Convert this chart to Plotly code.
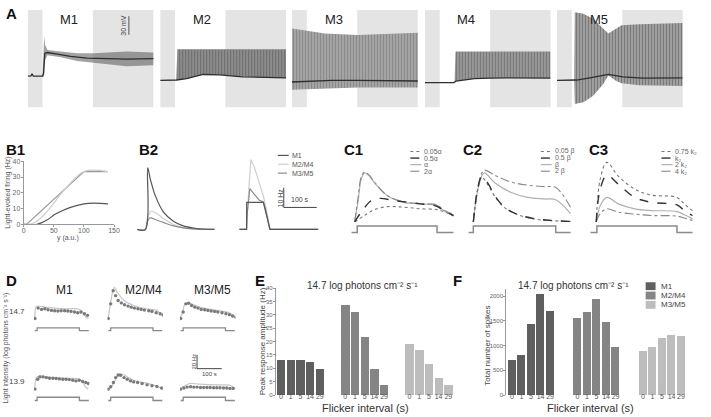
import plotly.graph_objects as go

W, H = 711, 417
FONT = "Liberation Sans, Arial, Helvetica, sans-serif"

# ============================ DATA ============================
# ---- Panel A: membrane potential (mV) vs time (s); envelopes of spiking ----
A_LABELS = ["M1", "M2", "M3", "M4", "M5"]
A_LIGHT_ON, A_LIGHT_OFF, A_END = 45, 198, 382
A_V_RANGE = [-116.3, 40]
A_SCALE_MV = 30

A_M1_T = [0, 10, 13, 17, 45, 48, 52, 60, 90, 130, 180, 230, 300, 382]
A_M1_V = [-66.3, -65.8, -62.6, -66.3, -66.3, -62.1, -29.5, -28.4, -31.1, -34.7, -37.4, -38.4, -38.9, -38.4]
A_M1_ENV_T = [45, 48, 50, 53, 60, 100, 150, 200, 250, 300, 382]
A_M1_UP = [-65.3, -19.0, -3.2, -16.3, -24.2, -26.8, -29.5, -29.5, -28.4, -26.8, -28.4]
A_M1_LO = [-67.4, -67.4, -63.7, -40.0, -33.0, -36.0, -42.0, -45.0, -48.0, -50.5, -49.0]

A_M2_T = [0, 45, 50, 80, 130, 180, 250, 382]
A_M2_V = [-73.2, -72.6, -72.6, -70.5, -63.7, -64.2, -67.4, -69.0]
A_M2_ENV_T = [49, 52, 80, 130, 180, 250, 382]
A_M2_UP = [-72.6, -23.2, -23.2, -23.2, -23.2, -23.2, -23.2]
A_M2_LO = [-72.6, -72.6, -70.5, -63.7, -64.2, -67.4, -69.0]

A_M3_T = [0, 60, 120, 200, 300, 382]
A_M3_V = [-75.8, -74.7, -73.2, -73.2, -73.7, -74.2]
A_M3_ENV_T = [0, 100, 200, 300, 382]
A_M3_UP = [10.0, 2.1, -0.5, 1.1, 3.2]
A_M3_LO = [-88.4, -86.3, -84.7, -84.7, -84.7]

A_M4_T = [0, 88, 95, 115, 150, 200, 250, 381]
A_M4_V = [-76.8, -76.8, -74.2, -72.6, -70.5, -69.5, -69.0, -69.5]
A_M4_ENV_T = [90, 93, 115, 150, 200, 250, 381]
A_M4_UP = [-75.8, -26.8, -26.8, -26.8, -26.8, -26.8, -26.8]
A_M4_LO = [-75.8, -74.2, -72.6, -70.5, -69.5, -69.0, -69.5]

A_M5_T = [0, 50, 60, 100, 156, 200, 260, 381]
A_M5_V = [-73.2, -73.2, -72.6, -69.0, -63.7, -67.4, -69.5, -69.0]
A_M5_ENV_T = [52, 54, 80, 110, 140, 156, 180, 196, 250, 381]
A_M5_UP = [-73.2, 36.3, 33.7, 25.8, 10.0, 2.1, 10.0, 15.3, 16.8, 18.9]
A_M5_LO = [-73.2, -111.1, -108.4, -97.9, -79.5, -65.3, -74.2, -77.9, -81.1, -82.1]

# ---- Panel B1: light-evoked firing (Hz) vs y (a.u.) ----
B1_M1_X = [0, 22, 30, 40, 55, 100, 140]
B1_M1_HZ = [0, 0, 1, 3, 7, 13, 13]
B1_M24_X = [0, 5, 100, 140]
B1_M24_HZ = [0, 0, 33.5, 33.5]
B1_M35_X = [0, 15, 30, 45, 60, 70, 100, 140]
B1_M35_HZ = [0, 0.5, 4.5, 11, 18.5, 22.9, 33.5, 33.5]

# ---- Panel B2: model firing (Hz) vs time (s) ----
B2_NAMES = ["M1", "M2/M4", "M3/M5"]
B2L_M1_T = [0, 25, 32, 40, 55, 80, 110, 140, 180, 235]
B2L_M1_HZ = [0, 0, 31.3, 25.5, 17.2, 8.8, 4.2, 1.8, 0.5, 0]
B2L_M24_T = [0, 25, 30, 42, 60, 80, 110, 140, 180, 235]
B2L_M24_HZ = [0, 0, 5, 9.2, 8, 5.5, 2.5, 1, 0.2, 0]
B2L_M35_T = [0, 25, 30, 38, 60, 80, 110, 140, 180, 235]
B2L_M35_HZ = [0, 0, 3.5, 5.8, 4.7, 3.5, 1.8, 0.8, 0.2, 0]
B2R_M1_T = [0, 22, 22.5, 73, 93, 240]
B2R_M1_HZ = [0, 0, 13.8, 13.8, 0, 0]
B2R_M24_T = [0, 22, 24, 35, 45, 60, 73, 80, 93, 240]
B2R_M24_HZ = [0, 0, 8, 35.5, 32, 24, 17, 12, 0, 0]
B2R_M35_T = [0, 22, 24, 32, 45, 60, 73, 80, 93, 240]
B2R_M35_HZ = [0, 0, 8, 20.8, 18, 15, 14, 10, 0, 0]
B2_SCALE_HZ, B2_SCALE_S = 10, 100

# ---- Panels C1-C3: model firing (Hz) vs time (s) ----
C1_NAMES = ["0.05\u03b1", "0.5\u03b1", "\u03b1", "2\u03b1"]
C2_NAMES = ["0.05 \u03b2", "0.5 \u03b2", "\u03b2", "2 \u03b2"]
C3_NAMES = ["0.75 k\u2082", "k\u2082", "2 k\u2082", "4 k\u2082"]

C1_A005_T = [10, 40, 70, 110, 160, 210, 260, 285, 310]
C1_A005_HZ = [0, 3.3, 6.3, 7.8, 7.5, 6.7, 6.3, 5.0, 3.0]
C1_A05_T = [10, 30, 60, 85, 135, 210, 260, 280, 310]
C1_A05_HZ = [0, 5, 10.8, 12, 10.8, 9.2, 8, 5.8, 3.3]
C1_A1_T = [10, 20, 30, 40, 55, 70, 110, 160, 210, 260, 280, 310]
C1_A1_HZ = [0, 10, 21.7, 25, 23.3, 20, 13.3, 10, 9.2, 8.3, 5.8, 3.3]
C1_A2_T = [10, 20, 30, 40, 55, 70, 110, 160, 210, 260, 280, 310]
C1_A2_HZ = [0, 11.7, 23, 25.3, 23.7, 20.3, 13.3, 10.3, 9.3, 8.7, 6.2, 3.8]
C1_STIM_T = [0, 18, 18, 260, 260, 310]

C2_B005_T = [15, 28, 40, 60, 80, 110, 150, 200, 250, 310]
C2_B005_HZ = [0, 15.8, 22.8, 18.7, 13, 7.3, 3.7, 1.5, 0.7, 0.2]
C2_B05_T = [15, 28, 40, 60, 80, 110, 150, 200, 250, 310]
C2_B05_HZ = [0, 16.7, 23, 19.5, 13.3, 7.5, 3.8, 1.7, 0.8, 0.3]
C2_B1_T = [15, 30, 48, 80, 130, 180, 230, 265, 310]
C2_B1_HZ = [0, 17.5, 25, 20, 15, 12.5, 11.7, 11.3, 4.2]
C2_B2_T = [15, 30, 48, 80, 130, 180, 230, 265, 310]
C2_B2_HZ = [0, 18.3, 26.3, 23.7, 20.3, 18.7, 18, 17.5, 7.5]
C2_STIM_T = [0, 15, 15, 265, 265, 310]

C3_T = [18, 30, 50, 85, 135, 185, 263, 285, 310]
C3_K075_HZ = [0, 21.7, 30.3, 23.3, 16.7, 13.7, 12.5, 9.2, 5.8]
C3_K1_HZ = [0, 16.7, 23.7, 19.2, 12.5, 10, 8.7, 5.8, 3.3]
C3_K2_HZ = [0, 8.3, 12.5, 9.2, 6.7, 5.8, 5.3, 3.7, 1.7]
C3_K4_HZ = [0, 4.2, 6.7, 5, 4, 3.3, 3, 2, 0.8]
C3_STIM_T = [0, 20, 20, 263, 263, 310]
STIM_LEVEL = [0, 0, 1, 1, 0, 0]

# ---- Panel D: data (dots) and model (line), Hz vs time (s) ----
D_COLS = ["M1", "M2/M4", "M3/M5"]
D_ROWS = ["14.7", "13.9"]
D_STIM_T = [3, 13, 13, 184, 184, 222]
D_M1_HI_DOT_T = [4, 17, 31, 44, 57, 71, 84, 97, 110, 124, 137, 150, 164, 177, 190, 204, 217]
D_M1_HI_DOT = [4.8, 20, 18.1, 19, 17.6, 16.7, 16.2, 15.7, 16.2, 16.2, 15.7, 15.2, 14.3, 13.3, 14.3, 11.9, 9.5]
D_M1_HI_MOD_T = [4, 8, 15, 44, 84, 137, 177, 190, 210, 220]
D_M1_HI_MOD = [4.8, 21.4, 22.9, 21.4, 20, 19, 19, 16.7, 7.1, 4.8]
D_M24_HI_DOT_T = [3, 13, 23, 33, 43, 56, 69, 83, 96, 109, 123, 136, 149, 167, 180, 197, 213, 226]
D_M24_HI_DOT = [4.8, 26.2, 45.2, 38.1, 31, 27.6, 24.8, 22.9, 21.4, 20, 19, 18.1, 17.1, 16.2, 15.2, 13.3, 11.9, 10.5]
D_M24_HI_MOD_T = [3, 13, 27, 40, 67, 106, 160, 200, 213, 226]
D_M24_HI_MOD = [4.8, 28.6, 50, 42.9, 31, 23.8, 19, 16.7, 11.9, 7.1]
D_M35_HI_DOT_T = [3, 13, 24, 35, 47, 60, 73, 86, 100, 113, 126, 140, 153, 170, 186, 200, 213, 226]
D_M35_HI_DOT = [4.8, 14.3, 26.2, 27.1, 23.8, 21.4, 20, 18.1, 17.6, 16.7, 15.7, 15.2, 14.3, 13.3, 11.9, 10.5, 8.6, 7.1]
D_M35_HI_MOD_T = [0, 11, 20, 33, 80, 146, 200, 213, 229]
D_M35_HI_MOD = [4.8, 14.3, 26.2, 27.6, 21.4, 16.7, 13.3, 9.5, 3.8]
D_M1_LO_DOT_T = [4, 15, 24, 37, 50, 63, 77, 90, 103, 117, 130, 143, 157, 170, 183, 197, 210, 220]
D_M1_LO_DOT = [3.3, 17.6, 21, 21, 20, 19, 19, 18.6, 18.1, 17.6, 17.6, 17.1, 16.2, 15.2, 16.2, 14.3, 12.9, 11.4]
D_M1_LO_MOD_T = [4, 10, 25, 40, 80, 140, 180, 195, 210, 220]
D_M1_LO_MOD = [3.3, 20, 22.4, 21.9, 20, 19, 18.1, 15.2, 5.7, 3.3]
D_M24_LO_DOT_T = [3, 13, 24, 33, 43, 53, 67, 80, 93, 106, 122, 140, 160, 180, 200, 219]
D_M24_LO_DOT = [3.3, 6.7, 12.9, 20, 23.8, 23.3, 20, 17.6, 15.2, 13.8, 12.9, 11.4, 9.5, 8.1, 7.1, 4.8]
D_M24_LO_MOD_T = [0, 13, 33, 47, 67, 106, 173, 213, 226]
D_M24_LO_MOD = [3.3, 5.7, 17.6, 25.7, 23.8, 16.2, 10.5, 5.7, 3.3]
D_M35_LO_DOT_T = [3, 16, 29, 43, 56, 69, 83, 96, 109, 122, 136, 149, 162, 176, 189, 202, 215]
D_M35_LO_DOT = [3.3, 4.8, 6.2, 6.7, 6.2, 6.2, 5.7, 5.7, 5.7, 5.7, 5.2, 5.2, 5.2, 4.8, 4.8, 4.3, 4.3]
D_M35_LO_MOD_T = [0, 20, 40, 80, 146, 200, 213, 229]
D_M35_LO_MOD = [3.3, 8.1, 11.4, 10.5, 9.5, 9, 6.7, 3.3]
D_SCALE_HZ, D_SCALE_S = 20, 100

# ---- Panels E, F: bars ----
GROUPS = ["M1", "M2/M4", "M3/M5"]
FLICKER = ["0", "1", "5", "14", "29"]
E_M1 = [13, 13, 13, 12.3, 9.5]
E_M24 = [33.5, 31, 21.5, 9.5, 3.7]
E_M35 = [19, 16.8, 11.4, 6.5, 3.8]
F_M1 = [700, 810, 1430, 2030, 1690]
F_M24 = [1550, 1670, 1930, 1480, 960]
F_M35 = [890, 960, 1140, 1220, 1200]
LIGHT_TITLE = "14.7 log photons cm\u207b\u00b2 s\u207b\u00b9"

# ============================ FIGURE ============================
fig = go.Figure()
layout_axes = {}
annotations = []
shapes = []
_n = [0]


def axes(left, top, right, bottom, xr, yr, xkw=None, ykw=None):
    _n[0] += 1
    s = "" if _n[0] == 1 else str(_n[0])
    xa = dict(domain=[left / W, right / W], range=xr, anchor="y" + s, visible=False,
              showgrid=False, zeroline=False, fixedrange=True)
    ya = dict(domain=[1 - bottom / H, 1 - top / H], range=yr, anchor="x" + s, visible=False,
              showgrid=False, zeroline=False, fixedrange=True)
    if xkw:
        xa.update(xkw)
    if ykw:
        ya.update(ykw)
    layout_axes["xaxis" + s] = xa
    layout_axes["yaxis" + s] = ya
    return ("x" + s, "y" + s)


def line(ax, x, y, color, width=1.0, dash="solid", shape="linear"):
    fig.add_trace(go.Scatter(x=x, y=y, xaxis=ax[0], yaxis=ax[1], mode="lines",
                             line=dict(color=color, width=width, dash=dash, shape=shape),
                             showlegend=False, hoverinfo="skip"))


def dots(ax, x, y, color="#7a7a7a", size=3.4):
    fig.add_trace(go.Scatter(x=x, y=y, xaxis=ax[0], yaxis=ax[1], mode="markers",
                             marker=dict(color=color, size=size, line=dict(width=0)),
                             showlegend=False, hoverinfo="skip"))


def band(ax, x, lo, up, bg, fg=None, size=3, solidity=0.4):
    fig.add_trace(go.Scatter(x=x, y=lo, xaxis=ax[0], yaxis=ax[1], mode="lines",
                             line=dict(width=0, color=bg), showlegend=False, hoverinfo="skip"))
    kw = {}
    if fg:
        kw["fillpattern"] = dict(shape="|", fgcolor=fg, bgcolor=bg, size=size, solidity=solidity)
    fig.add_trace(go.Scatter(x=x, y=up, xaxis=ax[0], yaxis=ax[1], mode="lines",
                             line=dict(width=0, color=bg), fill="tonexty", fillcolor=bg,
                             showlegend=False, hoverinfo="skip", **kw))


def text(px, py, s, size, color="#333", xanchor="left", yanchor="middle", angle=0, bold=False):
    annotations.append(dict(x=px / W, y=1 - py / H, xref="paper", yref="paper",
                            text=f"<b>{s}</b>" if bold else s, showarrow=False,
                            xanchor=xanchor, yanchor=yanchor, textangle=angle,
                            font=dict(size=size, color=color, family=FONT)))


def dtext(ax, x, y, s, size, color="#444", angle=0, xanchor="center", yanchor="middle"):
    annotations.append(dict(x=x, y=y, xref=ax[0], yref=ax[1], text=s, showarrow=False,
                            xanchor=xanchor, yanchor=yanchor, textangle=angle,
                            font=dict(size=size, color=color, family=FONT)))


def legend_line(x0, x1, py, color, width, dash):
    shapes.append(dict(type="line", xref="paper", yref="paper", x0=x0 / W, x1=x1 / W,
                       y0=1 - py / H, y1=1 - py / H, line=dict(color=color, width=width, dash=dash)))


# ---------------- Panel A ----------------
A_SERIES = [
    (A_M1_T, A_M1_V, A_M1_ENV_T, A_M1_LO, A_M1_UP),
    (A_M2_T, A_M2_V, A_M2_ENV_T, A_M2_LO, A_M2_UP),
    (A_M3_T, A_M3_V, A_M3_ENV_T, A_M3_LO, A_M3_UP),
    (A_M4_T, A_M4_V, A_M4_ENV_T, A_M4_LO, A_M4_UP),
    (A_M5_T, A_M5_V, A_M5_ENV_T, A_M5_LO, A_M5_UP),
]
A_STYLE = [
    dict(bg="rgba(85,85,85,0.55)", fg=None),
    dict(bg="#8f8f8f", fg="#4a4a4a"),
    dict(bg="#a6a6a6", fg="#6e6e6e"),
    dict(bg="#9a9a9a", fg="#555555"),
    dict(bg="#a3a3a3", fg="#4e4e4e"),
]
A_X0 = [26, 160, 293.3, 427.7, 561.3]
A_W = 127.3
for i, name in enumerate(A_LABELS):
    ax = axes(A_X0[i], 6, A_X0[i] + A_W, 105, [0, A_END], A_V_RANGE)
    for x0, x1 in [(0, A_LIGHT_ON), (A_LIGHT_OFF, A_END)]:
        shapes.append(dict(type="rect", xref=ax[0], yref=ax[1] + " domain", x0=x0, x1=x1,
                           y0=0, y1=1, fillcolor="#e4e4e4", line=dict(width=0), layer="below"))
    t, v, et, lo, up = A_SERIES[i]
    band(ax, et, lo, up, A_STYLE[i]["bg"], A_STYLE[i]["fg"])
    line(ax, t, v, "#2e2e2e", 1.3)
    text(A_X0[i] + 42, 16, name, 13, color="#222", xanchor="center")
    if i == 0:
        line(ax, [307, 307], [0, A_SCALE_MV], "#555", 1)
        dtext(ax, 290, A_SCALE_MV / 2, f"{A_SCALE_MV} mV", 7, angle=-90)

# ---------------- Panel B1 ----------------
tick_font = dict(size=7, color="#666", family=FONT)
axkw = dict(visible=True, showline=True, linecolor="#999", linewidth=1, ticks="outside",
            ticklen=2, tickcolor="#999", tickfont=tick_font, tickangle=0)
ax = axes(22, 160, 113.3, 224, [0, 150], [0, 40],
          xkw=dict(axkw, tickvals=[0, 50, 100, 150], ticklabelstandoff=-3),
          ykw=dict(axkw, tickvals=[0, 10, 20, 30, 40], ticklabelstandoff=-1))
line(ax, B1_M24_X, B1_M24_HZ, "#999999", 1.2)
line(ax, B1_M35_X, B1_M35_HZ, "#cccccc", 1.2, shape="spline")
line(ax, B1_M1_X, B1_M1_HZ, "#555555", 1.2, shape="spline")
text(6, 192, "Light-evoked firing (Hz)", 7, color="#555", xanchor="center", angle=-90)
text(67, 238, "y (a.u.)", 7, color="#555", xanchor="center")

# ---------------- Panel B2 ----------------
B2_COLORS = ["#555555", "#cfcfcf", "#8a8a8a"]
B2_DASH = ["solid", "solid", "dash"]
axL = axes(136.7, 150, 215, 232, [0, 235], [-1.35, 39.65])
axR = axes(240, 150, 320, 232, [0, 240], [-1.35, 39.65])
for tt, vv, c in [(B2L_M24_T, B2L_M24_HZ, B2_COLORS[1]), (B2L_M35_T, B2L_M35_HZ, B2_COLORS[2]),
                  (B2L_M1_T, B2L_M1_HZ, B2_COLORS[0])]:
    line(axL, tt, vv, c, 1.2, shape="spline")
for tt, vv, c in [(B2R_M24_T, B2R_M24_HZ, B2_COLORS[1]), (B2R_M35_T, B2R_M35_HZ, B2_COLORS[2]),
                  (B2R_M1_T, B2R_M1_HZ, B2_COLORS[0])]:
    line(axR, tt, vv, c, 1.2)
line(axR, [135, 135, 135 + B2_SCALE_S], [11.2 + B2_SCALE_HZ, 11.2, 11.2], "#444", 1)
dtext(axR, 126, 16.2, f"{B2_SCALE_HZ} Hz", 7, angle=-90)
dtext(axR, 185, 12.2, f"{B2_SCALE_S} s", 7, yanchor="bottom")
for k, nm in enumerate(B2_NAMES):
    py = 154 + 9 * k
    legend_line(279, 290, py, B2_COLORS[k], 1.2, B2_DASH[k])
    text(291, py, nm, 7, color="#555")

# ---------------- Panels C1-C3 ----------------
C_STYLES = [("#777777", 1.1, "dot"), ("#333333", 1.4, "dash"), ("#b0b0b0", 1.2, "solid"),
            ("#888888", 1.1, "dashdot")]
C_SETS = [
    ([(C1_A005_T, C1_A005_HZ), (C1_A05_T, C1_A05_HZ), (C1_A1_T, C1_A1_HZ), (C1_A2_T, C1_A2_HZ)],
     C1_STIM_T, C1_NAMES, "C1"),
    ([(C2_B005_T, C2_B005_HZ), (C2_B05_T, C2_B05_HZ), (C2_B1_T, C2_B1_HZ), (C2_B2_T, C2_B2_HZ)],
     C2_STIM_T, C2_NAMES, "C2"),
    ([(C3_T, C3_K075_HZ), (C3_T, C3_K1_HZ), (C3_T, C3_K2_HZ), (C3_T, C3_K4_HZ)],
     C3_STIM_T, C3_NAMES, "C3"),
]
C_X0 = [353.3, 471.7, 595]
C_LEG_X = [413, 545, 667]
for j, (series, stim_t, names, lab) in enumerate(C_SETS):
    x0 = C_X0[j]
    ax = axes(x0, 150, x0 + 105, 225, [0, 315], [-1.65, 35.85])
    axs = axes(x0, 222, x0 + 105, 236, [0, 315], [-0.56, 1.56])
    for k in [2, 3, 0, 1]:
        tt, vv = series[k]
        col, wd, ds = C_STYLES[k]
        line(ax, tt, vv, col, wd, ds, shape="spline")
    line(axs, stim_t, STIM_LEVEL, "#8a8a8a", 1.5)
    for k, nm in enumerate(names):
        py = 150 + 6.7 * k
        col, wd, ds = C_STYLES[k]
        legend_line(C_LEG_X[j], C_LEG_X[j] + 11, py, col, wd, ds)
        text(C_LEG_X[j] + 12, py, nm, 7, color="#666")

# ---------------- Panel D ----------------
D_DATA = [
    [(D_M1_HI_DOT_T, D_M1_HI_DOT, D_M1_HI_MOD_T, D_M1_HI_MOD),
     (D_M24_HI_DOT_T, D_M24_HI_DOT, D_M24_HI_MOD_T, D_M24_HI_MOD),
     (D_M35_HI_DOT_T, D_M35_HI_DOT, D_M35_HI_MOD_T, D_M35_HI_MOD)],
    [(D_M1_LO_DOT_T, D_M1_LO_DOT, D_M1_LO_MOD_T, D_M1_LO_MOD),
     (D_M24_LO_DOT_T, D_M24_LO_DOT, D_M24_LO_MOD_T, D_M24_LO_MOD),
     (D_M35_LO_DOT_T, D_M35_LO_DOT, D_M35_LO_MOD_T, D_M35_LO_MOD)],
]
D_X0 = [32.3, 106.7, 180]
D_ROW_BOX = [((286, 327), [-5.3, 53.3], (327, 335), [-0.9, 1.77]),
             ((355, 397), [-4.3, 55.7], (397, 406), [-0.82, 1.9])]
for r in range(2):
    (ct, cb), cyr, (st, sb), syr = D_ROW_BOX[r]
    for c in range(3):
        x0 = D_X0[c]
        ax = axes(x0, ct, x0 + 56, cb, [0, 224], cyr)
        axs = axes(x0, st, x0 + 56, sb, [0, 224], syr)
        dt, dv, mt, mv = D_DATA[r][c]
        line(ax, mt, mv, "#c6c6c6", 1.2, shape="spline")
        dots(ax, dt, dv)
        line(axs, D_STIM_T, STIM_LEVEL, "#8a8a8a", 1.3)
        if r == 1 and c == 2:
            line(ax, [69, 69, 69 + D_SCALE_S], [33 + D_SCALE_HZ, 33, 33], "#444", 1)
            dtext(ax, 56, 43, f"{D_SCALE_HZ} Hz", 6, angle=-90)
            dtext(ax, 119, 32, f"{D_SCALE_S} s", 6, yanchor="top")
for c, nm in enumerate(D_COLS):
    text([63, 143, 213][c], 291, nm, 12, color="#222", xanchor="center")
text(15, 313, D_ROWS[0], 8, color="#444", xanchor="center")
text(15, 384, D_ROWS[1], 8, color="#444", xanchor="center")
text(4.5, 350, "Light intensity (log photons cm\u207b\u00b2 s\u207b\u00b9)", 7, color="#555",
     xanchor="center", angle=-90)

# ---------------- Panels E and F ----------------
BAR_COLORS = ["#5f5f5f", "#868686", "#bdbdbd"]


def bar_panel(box, xr, yr, yticks, gstep, vals_list):
    left, top, right, bottom = box
    ax = axes(left, top, right, bottom, xr, yr,
              xkw=dict(visible=True, showline=False, ticks="", tickangle=0, ticklabelstandoff=-4,
                       tickvals=[g * gstep + i for g in range(3) for i in range(5)],
                       ticktext=FLICKER * 3, tickfont=dict(size=7, color="#555", family=FONT)),
              ykw=dict(axkw, tickvals=yticks, ticklabelstandoff=-1,
                       tickfont=dict(size=6, color="#666", family=FONT)))
    for g, vals in enumerate(vals_list):
        mk = dict(color=BAR_COLORS[g], line=dict(width=0))
        if g == 1:
            mk["pattern"] = dict(shape="/", fgcolor="#767676", bgcolor=BAR_COLORS[g], size=3,
                                 solidity=0.25)
        fig.add_trace(go.Bar(x=[g * gstep + i for i in range(5)], y=vals, width=0.86, marker=mk,
                             xaxis=ax[0], yaxis=ax[1], showlegend=False, hoverinfo="skip"))
    return ax


bar_panel((277, 289, 460, 397.7), [-0.53, 18.14], [0, 40], list(range(0, 41, 5)), 6.63,
          [E_M1, E_M24, E_M35])
bar_panel((510, 290, 695, 397.7), [-0.61, 18.66], [0, 2140], [0, 500, 1000, 1500, 2000], 6.9,
          [F_M1, F_M24, F_M35])
text(365, 286, LIGHT_TITLE, 10, color="#333", xanchor="center")
text(578, 286, LIGHT_TITLE, 10, color="#333", xanchor="center")
text(368, 411, "Flicker interval (s)", 11, color="#333", xanchor="center")
text(595, 411, "Flicker interval (s)", 11, color="#333", xanchor="center")
text(263, 343, "Peak response amplitude (Hz)", 8, color="#444", xanchor="center", angle=-90)
text(491, 347, "Total number of spikes", 8, color="#444", xanchor="center", angle=-90)
for g, nm in enumerate(GROUPS):
    py = 287 + 9.5 * g
    shapes.append(dict(type="rect", xref="paper", yref="paper", x0=651 / W, x1=661 / W,
                       y0=1 - (py + 4) / H, y1=1 - (py - 4) / H, fillcolor=BAR_COLORS[g],
                       line=dict(width=0)))
    text(664, py, nm, 8, color="#444")

# ---------------- Panel letters ----------------
for lab, px, py in [("A", 2, 10), ("B1", 2, 148), ("B2", 137, 148), ("C1", 344, 148),
                    ("C2", 464, 148), ("C3", 592, 148), ("D", 2, 281), ("E", 254, 281),
                    ("F", 454, 281)]:
    text(px, py, lab, 15, color="#111", bold=True)

fig.update_layout(width=W, height=H, margin=dict(l=0, r=0, t=0, b=0),
                  paper_bgcolor="white", plot_bgcolor="white", showlegend=False,
                  font=dict(family=FONT), annotations=annotations, shapes=shapes,
                  bargap=0, **layout_axes)
fig.write_html("out.html", config={"displayModeBar": False},
               post_script="document.body.style.margin='0';document.body.style.padding='0';")
